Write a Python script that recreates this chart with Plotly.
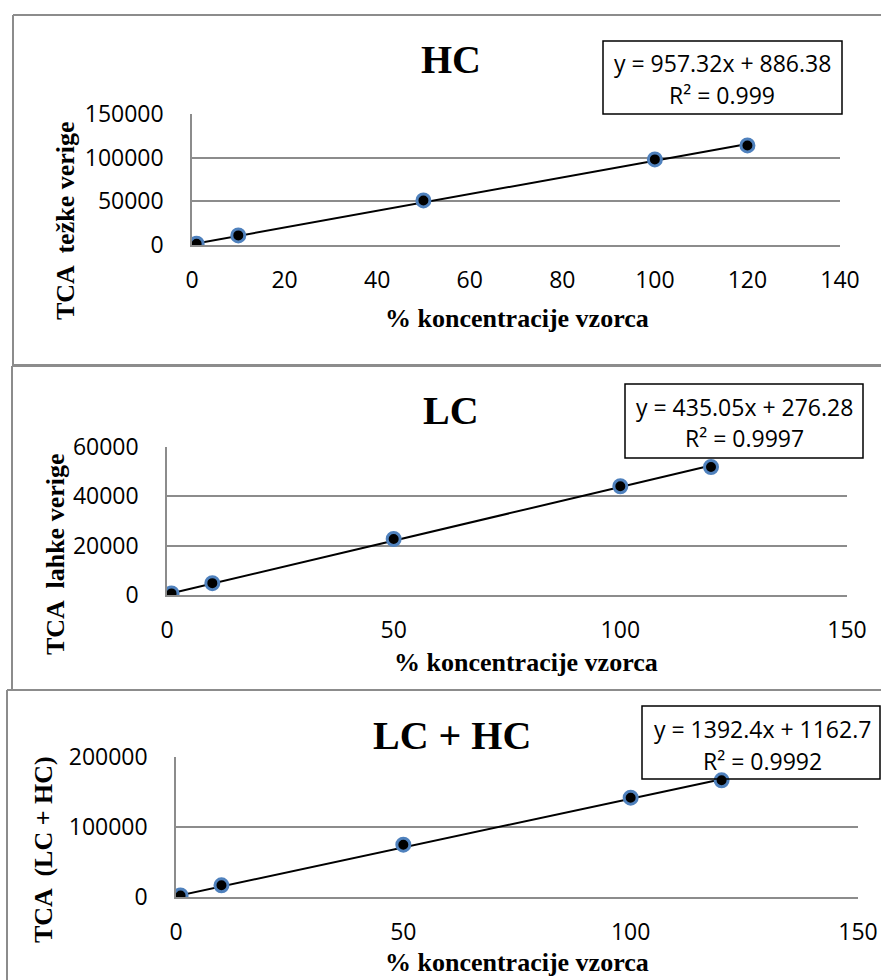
import plotly.graph_objects as go

# Sample concentration (% of sample) and measured total chromatographic area (TCA)
conc = [0, 1, 10, 50, 100, 120]
hc_tca = [300, 1500, 11000, 51000, 98000, 114000]
lc_tca = [150, 650, 4800, 22700, 44100, 51900]
total_tca = [450, 2200, 16700, 74700, 141900, 166700]

# Linear trendline parameters: slope, intercept, R²
hc_fit = [957.32, 886.38, 0.999]
lc_fit = [435.05, 276.28, 0.9997]
total_fit = [1392.4, 1162.7, 0.9992]

titles = ["HC", "LC", "LC + HC"]
y_titles = ["TCA  težke verige", "TCA  lahke verige", "TCA  (LC + HC)"]
x_title = "% koncentracije vzorca"

x_ranges = [[0, 140], [0, 150], [0, 150]]
x_dticks = [20, 50, 50]
y_ranges = [[0, 150000], [0, 60000], [0, 200000]]
y_dticks = [50000, 20000, 100000]

W, H = 881, 980


def px(x):
    return x / W


def py(y):
    return 1 - y / H


GRID = "#8c8c8c"
BLUE = "#4F81BD"
TICK_FONT = dict(family="Open Sans", size=23, color="black")
SERIF = "Liberation Serif"

# Layout of each panel, in pixels; frame edges: left, top, bottom (None = open)
panels = [
    dict(frame=(13, 15, 365), plot_x=(192, 840), plot_y=(245, 114),
         title=(451, 60), ytitle=(65, 221), xtitle=(517, 318),
         box=(603, 41, 842, 114), eq=(722, 63, 95)),
    dict(frame=(12, 366, 690), plot_x=(167, 847), plot_y=(595, 447),
         title=(451, 410), ytitle=(55, 554), xtitle=(526, 662),
         box=(625, 384, 863, 458), eq=(744, 407, 438)),
    dict(frame=(7, 690, None), plot_x=(176, 858), plot_y=(897, 757),
         title=(452, 735), ytitle=(43, 850), xtitle=(517, 962),
         box=(642, 706, 880, 779), eq=(762, 729, 761)),
]

series = [hc_tca, lc_tca, total_tca]
fits = [hc_fit, lc_fit, total_fit]

fig = go.Figure()
shapes = []
annotations = []
layout_axes = {}


def hline(x0, x1, y, color, width):
    return dict(type="line", xref="paper", yref="paper", x0=px(x0), x1=px(x1),
                y0=py(y), y1=py(y), line=dict(color=color, width=width))


def vline(x, y0, y1, color, width):
    return dict(type="line", xref="paper", yref="paper", x0=px(x), x1=px(x),
                y0=py(y0), y1=py(y1), line=dict(color=color, width=width))


for i, (p, ys, fit) in enumerate(zip(panels, series, fits)):
    n = "" if i == 0 else str(i + 1)
    xa, ya = "x" + n, "y" + n

    # trendline across the data range
    xl = [min(conc), max(conc)]
    yl = [fit[0] * v + fit[1] for v in xl]
    fig.add_trace(go.Scatter(x=xl, y=yl, mode="lines", xaxis=xa, yaxis=ya,
                             line=dict(color="black", width=2),
                             showlegend=False, hoverinfo="skip"))
    fig.add_trace(go.Scatter(x=conc, y=ys, mode="markers", xaxis=xa, yaxis=ya,
                             marker=dict(size=13, color="black",
                                         line=dict(color=BLUE, width=3)),
                             showlegend=False))

    layout_axes["xaxis" + n] = dict(
        domain=[px(p["plot_x"][0]), px(p["plot_x"][1])],
        anchor=ya, range=x_ranges[i], dtick=x_dticks[i], tick0=0,
        showgrid=False, zeroline=False, showline=True, linecolor=GRID,
        linewidth=1.5, ticks="", tickfont=TICK_FONT, ticklabelstandoff=14,
        automargin=False, fixedrange=True)
    layout_axes["yaxis" + n] = dict(
        domain=[py(p["plot_y"][0]), py(p["plot_y"][1])],
        anchor=xa, range=y_ranges[i], dtick=y_dticks[i], tick0=0,
        tickformat="d", showgrid=True, gridcolor=GRID, gridwidth=1.5,
        zeroline=False, showline=True, linecolor=GRID, linewidth=1.5,
        ticks="", tickfont=TICK_FONT, ticklabelstandoff=22,
        automargin=False, fixedrange=True)

    # panel frame (runs off the right edge of the page)
    fl, ft, fb = p["frame"]
    shapes.append(hline(fl, W, ft, GRID, 2))
    shapes.append(vline(fl, ft, fb if fb is not None else H, GRID, 2))
    if fb is not None:
        shapes.append(hline(fl, W, fb, GRID, 2))

    # equation box
    bx0, by0, bx1, by1 = p["box"]
    shapes.append(dict(type="rect", xref="paper", yref="paper",
                       x0=px(bx0), x1=px(bx1), y0=py(by0), y1=py(by1),
                       line=dict(color="black", width=1.5)))

    tx, ty = p["title"]
    annotations.append(dict(text=f"<b>{titles[i]}</b>", x=px(tx), y=py(ty),
                            xref="paper", yref="paper", showarrow=False,
                            xanchor="center", yanchor="middle",
                            font=dict(family=SERIF, size=40, color="black")))
    yx, yy = p["ytitle"]
    annotations.append(dict(text=f"<b>{y_titles[i]}</b>", x=px(yx), y=py(yy),
                            xref="paper", yref="paper", showarrow=False,
                            textangle=-90, xanchor="center", yanchor="middle",
                            font=dict(family=SERIF, size=26, color="black")))
    xx, xy = p["xtitle"]
    annotations.append(dict(text=f"<b>{x_title}</b>", x=px(xx), y=py(xy),
                            xref="paper", yref="paper", showarrow=False,
                            xanchor="center", yanchor="middle",
                            font=dict(family=SERIF, size=26, color="black")))
    ex, ey1, ey2 = p["eq"]
    annotations.append(dict(text=f"y = {fit[0]}x + {fit[1]}", x=px(ex), y=py(ey1),
                            xref="paper", yref="paper", showarrow=False,
                            xanchor="center", yanchor="middle",
                            font=dict(family="Open Sans", size=23, color="black")))
    annotations.append(dict(text=f"R² = {fit[2]}", x=px(ex), y=py(ey2),
                            xref="paper", yref="paper", showarrow=False,
                            xanchor="center", yanchor="middle",
                            font=dict(family="Open Sans", size=23, color="black")))

fig.update_layout(
    width=W, height=H,
    # fixed margins: nothing may push them outward
    margin=dict(l=0, r=0, t=0, b=0, pad=0, autoexpand=False),
    paper_bgcolor="white", plot_bgcolor="white",
    shapes=shapes, annotations=annotations,
    **layout_axes,
)

fig.write_html("out.html", config={"displayModeBar": False})
